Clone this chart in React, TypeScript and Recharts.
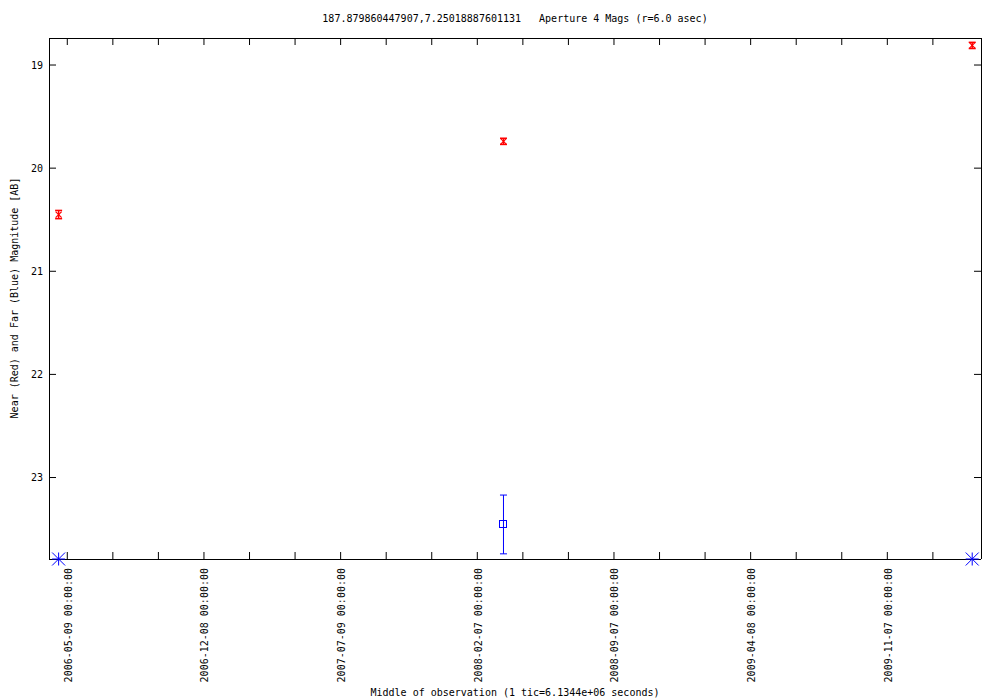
import React from 'react';
import { ComposedChart, Scatter, XAxis, YAxis, ErrorBar } from 'recharts';

const chartTitle = '187.879860447907,7.25018887601131   Aperture 4 Mags (r=6.0 asec)';
const xAxisTitle = 'Middle of observation (1 tic=6.1344e+06 seconds)';
const yAxisTitle = 'Near (Red) and Far (Blue) Magnitude [AB]';

// x values: days since 2006-05-09 00:00:00
const nearDays = [-13.5, 679.8, 1410.3];
const nearMag = [20.45, 19.74, 18.81];
const nearErr = [0.04, 0.03, 0.03];

const farDays = [679.8];
const farMag = [23.455];
const farErr = [0.285];

const farLimitDays = [-13.5, 1410.3];
const farLimitMag = [23.79, 23.79];

const xDomain = [-28.5, 1424];
const yDomain = [18.738, 23.79];

const xTicks = [0, 71, 142, 213, 284, 355, 426, 497, 568, 639, 710, 781, 852, 923, 994, 1065, 1136, 1207, 1278, 1349];
const xLabelDays = [0, 213, 426, 639, 852, 1065, 1278];
const xLabels = [
  '2006-05-09 00:00:00',
  '2006-12-08 00:00:00',
  '2007-07-09 00:00:00',
  '2008-02-07 00:00:00',
  '2008-09-07 00:00:00',
  '2009-04-08 00:00:00',
  '2009-11-07 00:00:00',
];
const yTicks = [19, 20, 21, 22, 23];

const nearData = nearDays.map((d, i) => ({ day: d, mag: nearMag[i], err: nearErr[i] }));
const farData = farDays.map((d, i) => ({ day: d, mag: farMag[i], err: farErr[i] }));
const farLimitData = farLimitDays.map((d, i) => ({ day: d, mag: farLimitMag[i] }));

const FONT = 'DejaVu Sans Mono, monospace';
const TL = 7;

const BottomTick = (p: any) => {
  const { x, y, payload } = p;
  const idx = xLabelDays.indexOf(payload.value);
  return (
    <g>
      <line x1={x} x2={x} y1={y} y2={y - TL} stroke="#000" />
      {idx >= 0 && (
        <text
          x={x + 1}
          y={y + 9}
          transform={`rotate(-90 ${x + 1} ${y + 9})`}
          textAnchor="end"
          dominantBaseline="central"
          fontFamily={FONT}
          fontSize={10}
          fill="#000"
        >
          {xLabels[idx]}
        </text>
      )}
    </g>
  );
};

const TopTick = (p: any) => {
  const { x, y } = p;
  return <line x1={x} x2={x} y1={y} y2={y + TL} stroke="#000" />;
};

const LeftTick = (p: any) => {
  const { x, y, payload } = p;
  return (
    <g>
      <line x1={x} x2={x + TL} y1={y} y2={y} stroke="#000" />
      <text x={x - 6} y={y} textAnchor="end" dominantBaseline="central" fontFamily={FONT} fontSize={10} fill="#000">
        {payload.value}
      </text>
    </g>
  );
};

const RightTick = (p: any) => {
  const { x, y } = p;
  return <line x1={x} x2={x - TL} y1={y} y2={y} stroke="#000" />;
};

const CrossShape = (p: any) => {
  const { cx, cy } = p;
  const s = 3;
  return (
    <g stroke="#ff0000" strokeWidth={1.2}>
      <line x1={cx - s} y1={cy - s} x2={cx + s} y2={cy + s} />
      <line x1={cx - s} y1={cy + s} x2={cx + s} y2={cy - s} />
    </g>
  );
};

const SquareShape = (p: any) => {
  const { cx, cy } = p;
  const s = 3.5;
  return <rect x={cx - s} y={cy - s} width={2 * s} height={2 * s} fill="none" stroke="#0000ff" strokeWidth={1} shapeRendering="crispEdges" />;
};

const StarShape = (p: any) => {
  const { cx, cy } = p;
  const s = 6.5;
  return (
    <g stroke="#0000ff" strokeWidth={1}>
      <line x1={cx - s} y1={cy - s} x2={cx + s} y2={cy + s} />
      <line x1={cx - s} y1={cy + s} x2={cx + s} y2={cy - s} />
      <line x1={cx} y1={cy - s} x2={cx} y2={cy + s} />
      <line x1={cx - s} y1={cy} x2={cx + s} y2={cy} />
    </g>
  );
};

export default function App() {
  return (
    <div style={{ position: 'absolute', left: 0, top: 0, width: 1000, height: 700, background: '#fff' }}>
      <style>{`.recharts-errorBar line, .recharts-cartesian-axis line { shape-rendering: crispEdges; }
.far-err line, .far-err { stroke: #0000ff !important; }
.near-err line, .near-err { stroke: #ff0000 !important; }`}</style>
      <ComposedChart width={1000} height={700} margin={{ top: 37, right: 18, left: 0, bottom: 0 }}>
        <XAxis
          xAxisId="b"
          type="number"
          dataKey="day"
          domain={xDomain}
          ticks={xTicks}
          interval={0}
          height={141}
          tickSize={0}
          tickMargin={0}
          tickLine={false}
          axisLine={{ stroke: '#000' }}
          tick={(p: any) => <BottomTick {...p} />}
        />
        <XAxis
          xAxisId="t"
          orientation="top"
          type="number"
          dataKey="day"
          domain={xDomain}
          allowDataOverflow
          ticks={xTicks}
          interval={0}
          height={1}
          tickSize={0}
          tickMargin={0}
          tickLine={false}
          axisLine={{ stroke: '#000' }}
          tick={(p: any) => <TopTick {...p} />}
        />
        <YAxis
          yAxisId="l"
          type="number"
          dataKey="mag"
          reversed
          domain={yDomain}
          ticks={yTicks}
          interval={0}
          width={49}
          tickSize={0}
          tickMargin={0}
          tickLine={false}
          axisLine={{ stroke: '#000' }}
          tick={(p: any) => <LeftTick {...p} />}
        />
        <YAxis
          yAxisId="r"
          orientation="right"
          type="number"
          dataKey="mag"
          reversed
          domain={yDomain}
          allowDataOverflow
          ticks={yTicks}
          interval={0}
          width={1}
          tickSize={0}
          tickMargin={0}
          tickLine={false}
          axisLine={{ stroke: '#000' }}
          tick={(p: any) => <RightTick {...p} />}
        />
        <Scatter
          name="Near"
          data={nearData}
          xAxisId="b"
          yAxisId="l"
          dataKey="mag"
          isAnimationActive={false}
          shape={(p: any) => <CrossShape {...p} />}
        >
          <ErrorBar className="near-err" dataKey="err" direction="y" width={3.5} stroke="#ff0000" strokeWidth={1.5} isAnimationActive={false} />
        </Scatter>
        <Scatter
          name="Far"
          data={farData}
          xAxisId="b"
          yAxisId="l"
          dataKey="mag"
          isAnimationActive={false}
          shape={(p: any) => <SquareShape {...p} />}
        >
          <ErrorBar className="far-err" dataKey="err" direction="y" width={3.5} stroke="#0000ff" strokeWidth={1} isAnimationActive={false} />
        </Scatter>
        <Scatter
          name="FarLimit"
          data={farLimitData}
          xAxisId="b"
          yAxisId="l"
          dataKey="mag"
          isAnimationActive={false}
          shape={(p: any) => <StarShape {...p} />}
        />
      </ComposedChart>
      <svg width={1000} height={700} style={{ position: 'absolute', left: 0, top: 0, pointerEvents: 'none' }}>
        <text x={515} y={18} textAnchor="middle" dominantBaseline="central" fontFamily={FONT} fontSize={10} fill="#000" style={{ whiteSpace: 'pre' }}>
          {chartTitle}
        </text>
        <text x={515} y={692} textAnchor="middle" dominantBaseline="central" fontFamily={FONT} fontSize={10} fill="#000">
          {xAxisTitle}
        </text>
        <text
          x={14}
          y={298}
          transform="rotate(-90 14 298)"
          textAnchor="middle"
          dominantBaseline="central"
          fontFamily={FONT}
          fontSize={10}
          fill="#000"
        >
          {yAxisTitle}
        </text>
      </svg>
    </div>
  );
}
